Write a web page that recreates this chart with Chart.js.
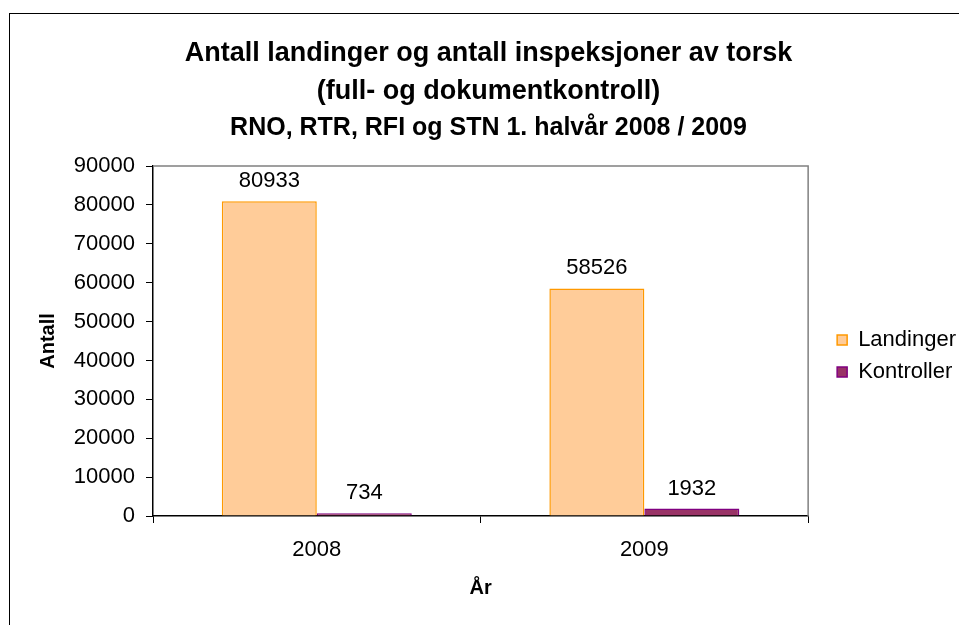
<!DOCTYPE html>
<html>
<head>
<meta charset="utf-8">
<script src="https://cdn.jsdelivr.net/npm/chart.js@4.4.0/dist/chart.umd.min.js"></script>
<style>
  html, body { margin: 0; padding: 0; background: #fff; }
  #wrap { position: relative; width: 959px; height: 625px; }
  #frame { position: absolute; left: 9px; top: 13px; width: 960px; height: 620px;
           border-left: 1.5px solid #000; border-top: 1.5px solid #000; }
  canvas { position: absolute; left: 0; top: 0; }
</style>
</head>
<body>
<div id="wrap">
  <div id="frame"></div>
  <canvas id="chart" width="959" height="625"></canvas>
</div>
<script>
const years = ['2008', '2009'];
const landinger = [80933, 58526];
const kontroller = [734, 1932];
const yTicks = [0, 10000, 20000, 30000, 40000, 50000, 60000, 70000, 80000, 90000];

const fontFamily = '"Liberation Sans", Arial, sans-serif';

// plot area frame (top and right edges in grey)
const plotFrame = {
  id: 'plotFrame',
  beforeDatasetsDraw(chart) {
    const a = chart.chartArea;
    const ctx = chart.ctx;
    ctx.save();
    ctx.strokeStyle = '#808080';
    ctx.lineWidth = 1.5;
    ctx.beginPath();
    ctx.moveTo(a.left, a.top);
    ctx.lineTo(a.right, a.top);
    ctx.lineTo(a.right, a.bottom);
    ctx.stroke();
    ctx.restore();
  }
};

// legend sits a bit away from the plot area, like in Excel
const legendShift = {
  id: 'legendShift',
  afterLayout(chart) {
    const l = chart.legend;
    l.left += 19; l.right += 19;
    l.top += 15; l.bottom += 15;
  }
};

// value labels above the bars
const valueLabels = {
  id: 'valueLabels',
  afterDatasetsDraw(chart) {
    const ctx = chart.ctx;
    ctx.save();
    ctx.font = '22px ' + fontFamily;
    ctx.fillStyle = '#000';
    ctx.textAlign = 'center';
    ctx.textBaseline = 'middle';
    chart.data.datasets.forEach((ds, i) => {
      chart.getDatasetMeta(i).data.forEach((bar, j) => {
        ctx.fillText(String(ds.data[j]), bar.x, bar.y - 20);
      });
    });
    ctx.restore();
  }
};

new Chart(document.getElementById('chart'), {
  type: 'bar',
  data: {
    labels: years,
    datasets: [
      {
        label: 'Landinger',
        data: landinger,
        backgroundColor: '#FFCC99',
        borderColor: '#FF9900',
        borderWidth: 1.5,
        barPercentage: 1,
        categoryPercentage: 0.58
      },
      {
        label: 'Kontroller',
        data: kontroller,
        backgroundColor: '#993366',
        borderColor: '#800080',
        borderWidth: 1.5,
        barPercentage: 1,
        categoryPercentage: 0.58
      }
    ]
  },
  options: {
    responsive: false,
    animation: false,
    layout: { padding: { top: 14, left: 30, right: 12, bottom: 25 } },
    plugins: {
      title: {
        display: true,
        text: ['Antall landinger og antall inspeksjoner av torsk', '(full- og dokumentkontroll)'],
        color: '#000',
        font: { family: fontFamily, size: 27, weight: 'bold', lineHeight: 38 / 27 },
        padding: { top: 21, bottom: 0 }
      },
      subtitle: {
        display: true,
        text: 'RNO, RTR, RFI og STN 1. halvår 2008 / 2009',
        color: '#000',
        font: { family: fontFamily, size: 25, weight: 'bold', lineHeight: 1.2 },
        padding: { top: 2, bottom: 23 }
      },
      legend: {
        position: 'right',
        fullSize: false,
        labels: {
          color: '#000',
          font: { family: fontFamily, size: 22 },
          boxWidth: 10,
          boxHeight: 10,
          padding: 10
        }
      },
      tooltip: { enabled: false }
    },
    scales: {
      x: {
        grid: { drawOnChartArea: false, drawTicks: true, tickLength: 7, color: '#000', offset: true },
        border: { color: '#000', width: 1.5 },
        ticks: { color: '#000', font: { family: fontFamily, size: 22 }, padding: 14 },
        title: {
          display: true,
          text: 'År',
          color: '#000',
          font: { family: fontFamily, size: 20, weight: 'bold', lineHeight: 1.2 },
          padding: { top: 0, bottom: 0 }
        },
        afterFit(scale) { scale.height = 84; }
      },
      y: {
        min: 0,
        max: 90000,
        afterBuildTicks(scale) { scale.ticks = yTicks.map(v => ({ value: v })); },
        grid: { drawOnChartArea: false, drawTicks: true, tickLength: 7, color: '#000' },
        border: { color: '#000', width: 1.5 },
        ticks: {
          color: '#000',
          font: { family: fontFamily, size: 22 },
          padding: 11,
          callback: v => String(v)
        },
        title: {
          display: true,
          text: 'Antall',
          color: '#000',
          font: { family: fontFamily, size: 20, weight: 'bold', lineHeight: 1.2 },
          padding: { top: 6, bottom: 0 }
        },
        afterFit(scale) { scale.width = 123; }
      }
    }
  },
  plugins: [plotFrame, legendShift, valueLabels]
});
</script>
</body>
</html>
